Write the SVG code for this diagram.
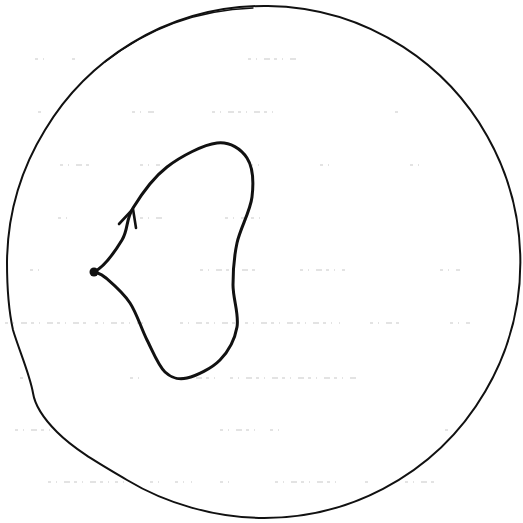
<svg xmlns="http://www.w3.org/2000/svg" width="523" height="523" viewBox="0 0 523 523">
  <style>
    .ink { fill: none; stroke: #111; stroke-linecap: round; stroke-linejoin: round; }
    .rule { fill: none; stroke: #9a9a9a; stroke-width: 1; stroke-dasharray: 3 5 1 7 6 4; opacity: 0.55; }
  </style>
  <rect width="523" height="523" fill="#fff"/>
  <g id="ruling">
    <path class="rule" d="M35 59 H48 M72 59 H80 M248 59 H300"/>
    <path class="rule" d="M38 112 H46 M132 112 H154 M212 112 H275 M395 112 H400"/>
    <path class="rule" d="M60 165 H90 M140 165 H160 M250 165 H265 M320 165 H330 M410 165 H420"/>
    <path class="rule" d="M58 218 H70 M140 218 H165 M225 218 H262"/>
    <path class="rule" d="M30 270 H40 M200 270 H260 M300 270 H345 M440 270 H460"/>
    <path class="rule" d="M5 323 H90 M95 323 H145 M180 323 H240 M245 323 H340 M370 323 H400 M450 323 H470"/>
    <path class="rule" d="M20 378 H30 M130 378 H145 M180 378 H220 M230 378 H360"/>
    <path class="rule" d="M15 430 H55 M220 430 H260 M270 430 H285 M445 430 H450"/>
    <path class="rule" d="M48 482 H110 M115 482 H130 M150 482 H160 M175 482 H192 M220 482 H235 M275 482 H340 M365 482 H370 M405 482 H435"/>
  </g>
  <g id="boundary-circle">
    <path class="ink" stroke-width="2" d="M45 130 A256 256 0 1 1 264 518 C215 518 165 503 127 480 C100 464 75 450 57 432 C45 420 35 406 33 393 C30 375 19 350 13 330 C9 312 7 290 7 262 A257 257 0 0 1 45 130 Z"/>
    <path class="ink" stroke-width="1.3" d="M105 62 Q170 11 253 8"/>
  </g>
  <g id="base-point">
    <circle cx="94" cy="272" r="4.5" fill="#111"/>
  </g>
  <g id="connectors">
    <path class="ink" stroke-width="3" d="M94 272 C104 267 115.5 250.7 122 240 C128.5 229.3 125.5 220.2 133 208 C140.5 195.8 153 177.8 167 167 C181 156.2 203.7 144.5 217 143 C230.3 141.5 241.2 149 247 158 C252.8 167 253.7 182.8 252 197 C250.3 211.2 240.2 228.3 237 243 C233.8 257.7 233 271 233 285 C233 299 239.2 314.5 237 327 C234.8 339.5 228.3 351.5 220 360 C211.7 368.5 196.2 376 187 378 C177.8 380 171.7 378.3 165 372 C158.3 365.7 152.8 351.5 147 340 C141.2 328.5 136.8 313.3 130 303 C123.2 292.7 112 283.2 106 278 C100 272.8 100 274 94 272"/>
    <path class="ink" stroke-width="2.6" d="M119 224 L133 209 L136 228"/>
  </g>
</svg>
